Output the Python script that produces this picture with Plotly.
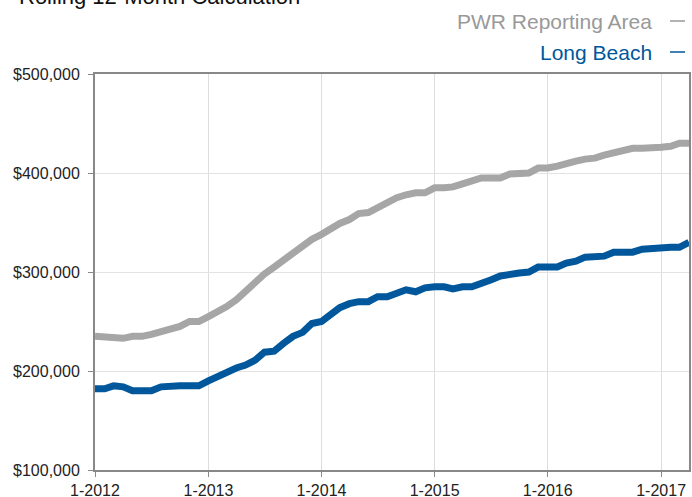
import pandas as pd
import plotly.graph_objects as go

months = pd.date_range("2012-01-01", periods=64, freq="MS")

pwr_values = [
    235000, 234000, 233000, 233000, 235000, 235000, 237000, 240000, 242000, 245000, 250000, 250000,
    255000, 260000, 265000, 272000, 281000, 290000, 298000, 305000, 312000, 320000, 325000, 333000,
    338000, 344000, 349000, 353000, 359000, 360000, 365000, 370000, 375000, 378000, 380000, 380000,
    385000, 385000, 386000, 389000, 392000, 395000, 395000, 395000, 399000, 400000, 400000, 405000,
    405000, 407000, 410000, 412000, 414000, 415000, 418000, 420000, 422000, 425000, 425000, 425000,
    426000, 427000, 430000, 430000,
]

long_beach_values = [
    182000, 182000, 185000, 184000, 180000, 180000, 180000, 184000, 185000, 185000, 185000, 185000,
    190000, 195000, 199000, 203000, 206000, 211000, 219000, 220000, 228000, 235000, 239000, 248000,
    250000, 257000, 264000, 268000, 270000, 270000, 275000, 275000, 278000, 282000, 280000, 284000,
    285000, 285000, 283000, 285000, 285000, 288000, 292000, 296000, 298000, 299000, 300000, 305000,
    305000, 305000, 309000, 311000, 315000, 315000, 316000, 320000, 320000, 320000, 323000, 324000,
    325000, 325000, 325000, 330000,
]

tick_dates = ["2012-01-01", "2013-01-01", "2014-01-01", "2015-01-01", "2016-01-01", "2017-01-01"]
tick_labels = ["1-2012", "1-2013", "1-2014", "1-2015", "1-2016", "1-2017"]
y_ticks = [100000, 200000, 300000, 400000, 500000]
y_labels = ["$100,000", "$200,000", "$300,000", "$400,000", "$500,000"]

title_text = "Rolling 12-Month Calculation"
series_names = ["PWR Reporting Area", "Long Beach"]
series_colors = ["#a6a6a6", "#00579b"]
legend_text_colors = ["#999999", "#00579b"]

FONT = "Liberation Sans, Arial, Helvetica, sans-serif"

W, H = 692, 497
ML, MR, MT, MB = 95, 3, 74, 27
PW, PH = W - ML - MR, H - MT - MB

fig = go.Figure()
fig.add_trace(go.Scatter(x=months, y=pwr_values, mode="lines", name=series_names[0],
                         line=dict(color=series_colors[0], width=7), hoverinfo="x+y"))
fig.add_trace(go.Scatter(x=months, y=long_beach_values, mode="lines", name=series_names[1],
                         line=dict(color=series_colors[1], width=7), hoverinfo="x+y"))

legend_rows_px = [53, 22]   # px above plot top (row centers)
annotations = [
    dict(text=title_text, xref="paper", yref="paper", x=0, y=1, xshift=-78,
         yshift=63, xanchor="left", yanchor="bottom", showarrow=False,
         font=dict(size=22, color="#111111", family=FONT)),
]
shapes = []
for name, col, dy in zip(series_names, legend_text_colors, legend_rows_px):
    annotations.append(dict(text=name, xref="paper", yref="paper", x=1, y=1,
                            xshift=-(ML + PW - 654), yshift=dy,
                            xanchor="right", yanchor="middle", showarrow=False,
                            font=dict(size=21, color=col, family=FONT)))
    y_line = 1 + dy / PH
    x0 = 1 + (670 - ML - PW) / PW
    x1 = 1 + (685 - ML - PW) / PW
    shapes.append(dict(type="line", xref="paper", yref="paper", x0=x0, x1=x1,
                       y0=y_line, y1=y_line, line=dict(color=col, width=1.5)))

fig.update_layout(
    width=W, height=H,
    margin=dict(l=ML, r=MR, t=MT, b=MB, autoexpand=False),
    paper_bgcolor="white", plot_bgcolor="white",
    showlegend=False,
    font=dict(family=FONT, color="#222222"),
    xaxis=dict(
        type="date",
        range=[months[0], months[-1]],
        tickmode="array", tickvals=tick_dates, ticktext=tick_labels,
        tickfont=dict(size=16, color="#222222"),
        ticks="outside", ticklen=5, tickcolor="#888888", tickwidth=1,
        showgrid=True, gridcolor="#dddddd", gridwidth=1,
        showline=True, linecolor="#888888", linewidth=2, mirror=True,
        zeroline=False,
    ),
    yaxis=dict(
        range=[100000, 500000],
        tickmode="array", tickvals=y_ticks, ticktext=y_labels,
        tickfont=dict(size=16, color="#222222"),
        ticks="outside", ticklen=5, tickcolor="#888888", tickwidth=1,
        ticklabelstandoff=5,
        showgrid=True, gridcolor="#e3e3e3", gridwidth=1,
        showline=True, linecolor="#888888", linewidth=2, mirror=True,
        zeroline=False,
    ),
    annotations=annotations,
    shapes=shapes,
)

fig.write_html(
    "out.html",
    config={"displayModeBar": False},
    post_script="document.body.style.margin='0';document.body.style.overflow='hidden';",
)
